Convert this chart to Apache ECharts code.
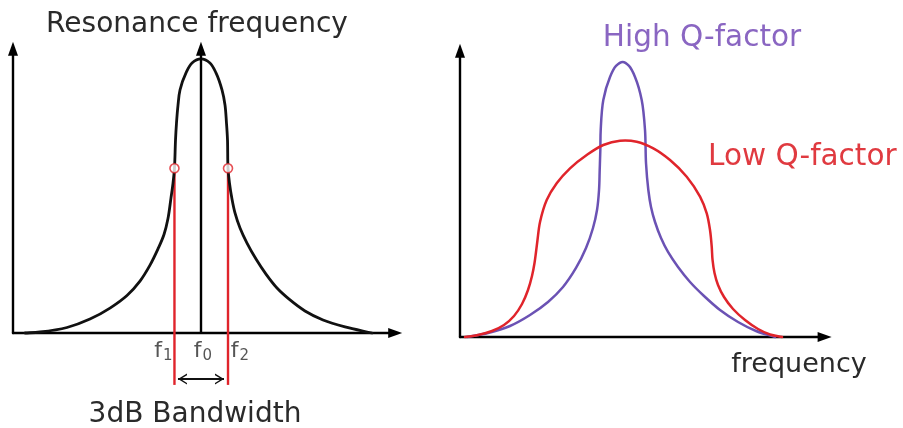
<!DOCTYPE html>
<html>
<head>
<meta charset="utf-8">
<script src="https://cdn.jsdelivr.net/npm/echarts@6/dist/echarts.min.js"></script>
<style>
  html, body { margin: 0; padding: 0; background: #fff; }
  #chart { width: 903px; height: 428px; }
</style>
</head>
<body>
<div id="chart"></div>
<script>
// ---- Resonance curve (left panel) ----
const resonanceX = [3.08, 6.92, 13.85, 19.74, 24.87, 29.23, 32.56, 35.13, 37.18, 38.72, 39.74, 40.51, 41.03, 41.4,
                    41.67, 41.92, 42.31, 42.82, 44.36, 45.9, 48.2, 50.5, 52.05, 53.59, 54.36, 54.74, 55.0, 55.13,
                    55.51, 56.15, 56.92, 58.21, 60.0, 62.31, 64.87, 67.69, 71.03, 74.87, 79.49, 85.13, 92.05];
const resonanceY = [0, 0.34, 1.9, 4.8, 8.6, 12.93, 17.9, 23.4, 29.0, 33.97, 39.48, 46.6, 51.7, 56.8,
                    66.6, 72.4, 78.6, 83.8, 89.7, 93.1, 94.5, 93.1, 89.7, 83.8, 78.6, 72.4, 66.6, 56.8,
                    51.7, 46.2, 41.4, 36.2, 31.0, 25.5, 20.3, 15.5, 11.4, 7.6, 4.5, 2.1, 0];
const f0 = 48.2, f1 = 41.4, f2 = 55.13;
const halfPowerLevel = 56.8;
const bandwidthLineEnd = -17.9;   // red guide lines run below the axis
const bandwidthArrowLevel = -15.9;
const bandwidthArrowX = [42.3, 54.1];
const freqMarkLabels = ['f1', 'f0', 'f2'];

// ---- Q-factor comparison (right panel) ----
const lowQX = [1.34, 4.84, 8.6, 11.83, 14.52, 16.67, 18.28, 19.35, 20.03, 20.43, 20.83, 21.51, 23.31, 25.99, 29.57, 34.06, 38.52, 43.01,
               47.5, 51.96, 56.45, 60.94, 64.52, 66.32, 67.2, 67.66, 67.88, 68.41, 69.35, 70.97, 73.39, 76.61, 80.11, 83.33, 86.56];
const lowQY = [0, 0.68, 2.05, 4.11, 7.19, 11.3, 16.1, 20.89, 25.34, 29.11, 33.22, 39.38, 46.92, 52.64, 57.77, 62.33, 65.75, 67.23,
               66.88, 64.62, 60.62, 54.9, 48.05, 42.36, 36.64, 30.92, 26.37, 21.92, 17.81, 13.7, 9.59, 5.82, 2.74, 0.86, 0];
const highQX = [1.88, 7.53, 13.44, 18.82, 23.66, 27.69, 31.18, 33.87, 35.75, 36.83, 37.37, 37.55, 37.72, 37.82, 38.52, 40.32, 41.94, 43.74,
                45.43, 47.04, 48.84, 49.73, 50.0, 50.62, 51.34, 52.42, 54.03, 55.91, 58.6, 61.83, 65.59, 69.89, 74.73, 79.57, 84.68];
const highQY = [0, 1.37, 3.77, 7.53, 11.99, 17.12, 23.63, 30.48, 37.33, 43.49, 50.34, 57.19, 64.04, 70.89, 81.16, 89.04, 92.81, 94.18,
                92.81, 89.04, 81.16, 70.89, 59.49, 50.34, 44.52, 39.38, 33.9, 29.11, 23.97, 18.84, 14.04, 9.25, 5.14, 2.05, 0];

const FONT = 'DejaVu Sans';
const TEXT = '#2a2a2a';
const RED = '#e0242b';
const PURPLE = '#6b52b4';

// Centripetal Catmull-Rom spline through pixel points, emitted as SVG path data.
function splinePath(pts) {
  const n = pts.length;
  const P = (i) => {
    if (i < 0) return [2 * pts[0][0] - pts[1][0], 2 * pts[0][1] - pts[1][1]];
    if (i >= n) return [2 * pts[n - 1][0] - pts[n - 2][0], 2 * pts[n - 1][1] - pts[n - 2][1]];
    return pts[i];
  };
  const dist = (a, b) => Math.max(1e-6, Math.pow(Math.hypot(b[0] - a[0], b[1] - a[1]), 0.5));
  let d = 'M' + pts[0][0] + ',' + pts[0][1];
  for (let i = 0; i < n - 1; i++) {
    const p0 = P(i - 1), p1 = P(i), p2 = P(i + 1), p3 = P(i + 2);
    const d1 = dist(p0, p1), d2 = dist(p1, p2), d3 = dist(p2, p3);
    const b1 = [0, 1].map(k => (d1 * d1 * p2[k] - d2 * d2 * p0[k] + (2 * d1 * d1 + 3 * d1 * d2 + d2 * d2) * p1[k]) / (3 * d1 * (d1 + d2)));
    const b2 = [0, 1].map(k => (d3 * d3 * p1[k] - d2 * d2 * p3[k] + (2 * d3 * d3 + 3 * d3 * d2 + d2 * d2) * p2[k]) / (3 * d3 * (d3 + d2)));
    d += 'C' + b1[0] + ',' + b1[1] + ',' + b2[0] + ',' + b2[1] + ',' + p2[0] + ',' + p2[1];
  }
  return d;
}

// A curve series: one custom item per curve, drawn through the axis scales.
function curveSeries(name, xs, ys, gridIdx, color, width, z) {
  return {
    name: name, type: 'custom', xAxisIndex: gridIdx, yAxisIndex: gridIdx, z: z,
    data: [[xs[0], ys[0]]],
    renderItem: (params, api) => {
      const pts = xs.map((x, i) => api.coord([x, ys[i]]));
      return {
        type: 'path',
        shape: { pathData: splinePath(pts) },
        style: { fill: null, stroke: color, lineWidth: width, lineJoin: 'round', lineCap: 'round' }
      };
    }
  };
}

const axisBase = (extra) => Object.assign({
  type: 'value', min: 0, max: 98,
  axisLine: { show: true, onZero: false, symbol: ['none', 'triangle'], symbolSize: [10, 14],
              lineStyle: { color: '#000', width: 2.4 } },
  axisTick: { show: false }, axisLabel: { show: false }, splitLine: { show: false }
}, extra);

const chevron = 'path://M0,12 L6,0 L12,12 L10.2,12 L6,3.6 L1.8,12 Z';
const titleFont = '28px "' + FONT + '"';
const qFont = '29.5px "' + FONT + '"';

const option = {
  backgroundColor: '#fff',
  animation: false,
  grid: [
    { left: 13, top: 48.8, width: 382.2, height: 284.2 },
    { left: 460, top: 50.8, width: 364.6, height: 286.2 }
  ],
  xAxis: [axisBase({ gridIndex: 0 }), axisBase({ gridIndex: 1 })],
  yAxis: [axisBase({ gridIndex: 0 }), axisBase({ gridIndex: 1 })],
  graphic: [
    { type: 'text', x: 197, y: 25, style: { text: 'Resonance frequency', font: titleFont, fill: TEXT, align: 'center', verticalAlign: 'middle' } },
    { type: 'text', x: 195, y: 415, style: { text: '3dB Bandwidth', font: titleFont, fill: TEXT, align: 'center', verticalAlign: 'middle' } },
    { type: 'text', x: 702, y: 38, style: { text: 'High Q-factor', font: qFont, fill: '#8a66c2', align: 'center', verticalAlign: 'middle' } },
    { type: 'text', x: 708, y: 157, style: { text: 'Low Q-factor', font: qFont, fill: '#e03a40', align: 'left', verticalAlign: 'middle' } },
    { type: 'text', x: 799, y: 365, style: { text: 'frequency', font: '27px "' + FONT + '"', fill: TEXT, align: 'center', verticalAlign: 'middle' } }
  ],
  series: [
    curveSeries('resonance', resonanceX, resonanceY, 0, '#111', 2.8, 3),
    {
      name: 'f0 marker', type: 'line', xAxisIndex: 0, yAxisIndex: 0, data: [], symbol: 'none',
      markLine: {
        silent: true, symbol: ['none', 'triangle'], symbolSize: [10, 14],
        lineStyle: { color: '#000', width: 2.4, type: 'solid' }, label: { show: false },
        data: [[{ coord: [f0, 0] }, { coord: [f0, 98] }]]
      }
    },
    {
      name: 'f1 guide', type: 'line', xAxisIndex: 0, yAxisIndex: 0, clip: false,
      data: [[f1, halfPowerLevel], [f1, bandwidthLineEnd]], symbol: 'none',
      lineStyle: { color: RED, width: 2.4 }, z: 2
    },
    {
      name: 'f2 guide', type: 'line', xAxisIndex: 0, yAxisIndex: 0, clip: false,
      data: [[f2, halfPowerLevel], [f2, bandwidthLineEnd]], symbol: 'none',
      lineStyle: { color: RED, width: 2.4 }, z: 2
    },
    {
      name: 'bandwidth arrow', type: 'line', xAxisIndex: 0, yAxisIndex: 0, clip: false,
      symbol: chevron, symbolSize: [11, 9], showSymbol: true, showAllSymbol: true,
      itemStyle: { color: '#111' }, lineStyle: { color: '#111', width: 2 }, z: 4,
      data: [
        { value: [bandwidthArrowX[0], bandwidthArrowLevel], symbolRotate: 90, symbolOffset: [4.5, 0] },
        { value: [bandwidthArrowX[1], bandwidthArrowLevel], symbolRotate: -90, symbolOffset: [-4.5, 0] }
      ]
    },
    {
      name: 'half power points', type: 'scatter', xAxisIndex: 0, yAxisIndex: 0,
      data: [[f1, halfPowerLevel], [f2, halfPowerLevel]], symbol: 'circle', symbolSize: 9,
      itemStyle: { color: '#fff', borderColor: RED, borderWidth: 1.6 }, z: 5
    },
    {
      name: 'frequency marks', type: 'scatter', xAxisIndex: 0, yAxisIndex: 0, clip: false,
      symbolSize: 1, itemStyle: { color: 'rgba(0,0,0,0)' },
      data: [
        { value: [f1, 0], label: { offset: [-11, 0] } },
        { value: [f0, 0], label: { offset: [2, 0] } },
        { value: [f2, 0], label: { offset: [12, 0] } }
      ],
      label: {
        show: true, position: 'bottom', distance: 6,
        fontFamily: FONT, fontSize: 22, color: TEXT,
        formatter: (p) => '{f|f}{s|' + freqMarkLabels[p.dataIndex].slice(1) + '}',
        rich: {
          f: { fontFamily: FONT, fontSize: 22, color: TEXT },
          s: { fontFamily: FONT, fontSize: 15, color: TEXT, padding: [9, 0, 0, 1] }
        }
      }
    },
    curveSeries('Low Q-factor', lowQX, lowQY, 1, RED, 2.5, 3),
    curveSeries('High Q-factor', highQX, highQY, 1, PURPLE, 2.5, 2)
  ]
};

const chart = echarts.init(document.getElementById('chart'), null, { renderer: 'canvas' });
chart.setOption(option);
</script>
</body>
</html>
